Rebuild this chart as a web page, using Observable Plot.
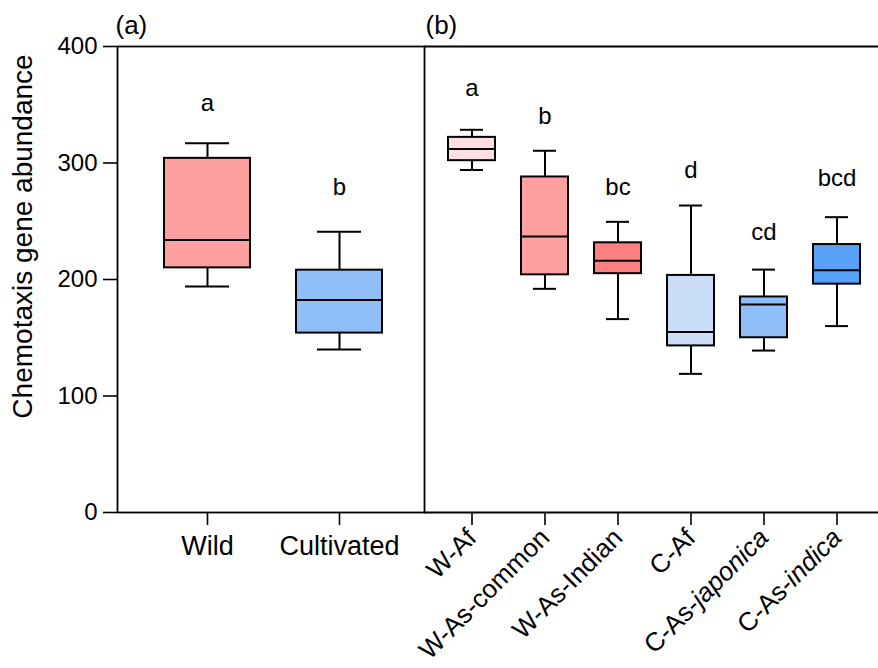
<!DOCTYPE html>
<html>
<head>
<meta charset="utf-8">
<script src="https://cdn.jsdelivr.net/npm/d3@7"></script>
<script src="https://cdn.jsdelivr.net/npm/@observablehq/plot@0.6"></script>
<style>
  body { margin: 0; background: white; }
  #wrap { position: relative; width: 878px; height: 668px; background: white; }
  #wrap svg { position: absolute; left: 0; top: 0; }
</style>
</head>
<body>
<div id="wrap"></div>
<script>
// Panel (a)
const groupsA  = ["Wild", "Cultivated"];
const minA     = [194, 140];
const q1A      = [210, 154];
const medA     = [234, 182.5];
const q3A      = [304, 208];
const maxA     = [317, 241];
const lettersA = ["a", "b"];
const letterYA = [351, 279];
const colorsA  = ["#ffa0a0", "#90bff8"];

// Panel (b)
const groupsB  = ["W-Af", "W-As-common", "W-As-Indian", "C-Af", "C-As-japonica", "C-As-indica"];
const minB     = [294, 192, 166, 119, 139, 160];
const q1B      = [302, 204, 205, 143, 150, 196];
const medB     = [312, 237, 216, 155, 178.5, 208];
const q3B      = [322, 288, 231.5, 203.5, 185, 230];
const maxB     = [328.5, 310.5, 249.5, 263.5, 208.5, 253.5];
const lettersB = ["a", "b", "bc", "d", "cd", "bcd"];
const letterYB = [364, 340, 279.5, 294, 240.5, 286.5];
const colorsB  = ["#ffe0e1", "#ffa0a0", "#ff8080", "#c9ddf7", "#90bff8", "#57a2f8"];

const yTicks = [0, 100, 200, 300, 400];
const yLabel = "Chemotaxis gene abundance";

const rows = (g, mn, q1, md, q3, mx, lt, ly, col) =>
  g.map((k, i) => ({group: k, min: mn[i], q1: q1[i], med: md[i], q3: q3[i], max: mx[i], letter: lt[i], ly: ly[i], color: col[i]}));

const dataA = rows(groupsA, minA, q1A, medA, q3A, maxA, lettersA, letterYA, colorsA);
const dataB = rows(groupsB, minB, q1B, medB, q3B, maxB, lettersB, letterYB, colorsB);

const FONT = "'Liberation Sans', Arial, Helvetica, sans-serif";
const W = 878, H = 668, MT = 46, MB = 156;

function boxMarks(data, capInset) {
  return [
    Plot.ruleX(data, {x: "group", y1: "q3", y2: "max", stroke: "black", strokeWidth: 2}),
    Plot.ruleX(data, {x: "group", y1: "min", y2: "q1", stroke: "black", strokeWidth: 2}),
    Plot.tickY(data, {x: "group", y: "max", stroke: "black", strokeWidth: 2, insetLeft: capInset, insetRight: capInset}),
    Plot.tickY(data, {x: "group", y: "min", stroke: "black", strokeWidth: 2, insetLeft: capInset, insetRight: capInset}),
    Plot.barY(data, {x: "group", y1: "q1", y2: "q3", fill: "color", stroke: "black", strokeWidth: 2}),
    Plot.tickY(data, {x: "group", y: "med", stroke: "black", strokeWidth: 2}),
    Plot.text(data, {x: "group", y: "ly", text: "letter", fontSize: 24, fill: "black"})
  ];
}

const plotA = Plot.plot({
  width: W, height: H,
  marginLeft: 117, marginRight: W - 424, marginTop: MT, marginBottom: MB,
  style: {fontFamily: FONT, background: "transparent", overflow: "visible", color: "black"},
  x: {type: "band", domain: groupsA, range: [119, 426], paddingInner: 0.35, paddingOuter: 0.33},
  y: {domain: [0, 400]},
  color: {type: "identity"},
  marks: [
    Plot.frame({stroke: "black", strokeWidth: 1.8}),
    Plot.axisY({ticks: yTicks, tickSize: 14, tickPadding: 6, fontSize: 24, label: null, strokeWidth: 1.6}),
    Plot.axisX({tickSize: 13, tickPadding: 10, fontSize: 27, label: null, strokeWidth: 1.6}),
    ...boxMarks(dataA, 21),
    Plot.text([yLabel], {frameAnchor: "left", textAnchor: "middle", lineAnchor: "middle", rotate: -90, dx: -94, dy: -43, fontSize: 28, fill: "black"}),
    Plot.text(["(a)"], {frameAnchor: "top-left", textAnchor: "start", lineAnchor: "middle", dx: -2, dy: -21, fontSize: 26, fill: "black"})
  ]
});

const plotB = Plot.plot({
  width: W, height: H,
  marginLeft: 424, marginRight: 0, marginTop: MT, marginBottom: MB,
  style: {fontFamily: FONT, background: "transparent", overflow: "visible", color: "black"},
  x: {type: "band", domain: groupsB, range: [425, 882], paddingInner: 0.36, paddingOuter: 0.3},
  y: {domain: [0, 400], axis: null},
  color: {type: "identity"},
  marks: [
    Plot.ruleY([0, 400], {stroke: "black", strokeWidth: 1.8}),
    Plot.axisX({tickSize: 13, tickPadding: 8, tickRotate: -45, fontSize: 26, label: null, strokeWidth: 1.6}),
    ...boxMarks(dataB, 12),
    Plot.text(["(b)"], {frameAnchor: "top-left", textAnchor: "start", lineAnchor: "middle", dx: 1, dy: -21, fontSize: 26, fill: "black"})
  ]
});

const wrap = document.getElementById("wrap");
wrap.appendChild(plotA);
wrap.appendChild(plotB);

// italicize cultivar names in tick labels
d3.select(plotB).selectAll('[aria-label="x-axis tick label"] text').each(function () {
  const t = this.textContent;
  const m = t.match(/^(C-As-)(japonica|indica)$/);
  if (m) {
    const sel = d3.select(this);
    sel.text(null);
    sel.append("tspan").text(m[1]);
    sel.append("tspan").attr("font-style", "italic").text(m[2]);
  }
});
</script>
</body>
</html>
